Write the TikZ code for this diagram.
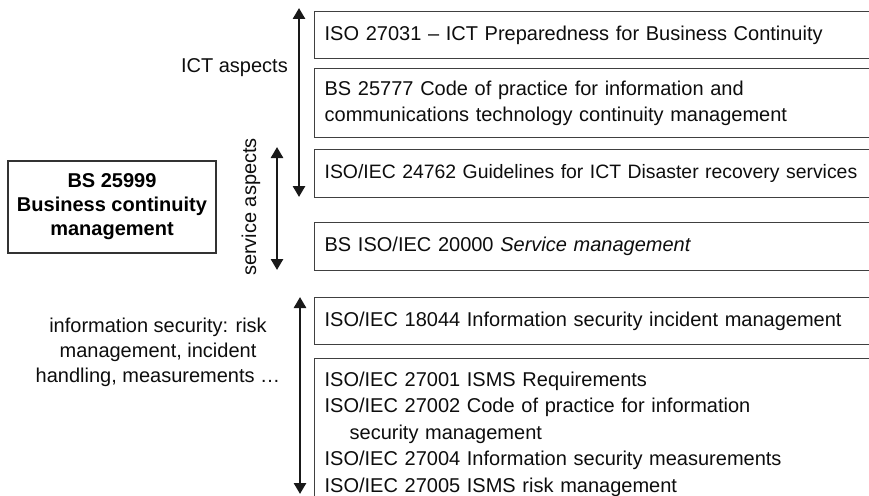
\documentclass[tikz,border=0pt]{standalone}
\usepackage{fontspec}
\setmainfont{Liberation Sans}
\usetikzlibrary{arrows.meta}

\tikzset{
  stdbox/.style={draw=black!75, line width=1.3pt, anchor=north west,
    minimum width=600pt, text width=580pt, inner xsep=9pt, align=left,
    text=black!95, font=\fontsize{20}{26.5}\selectfont},
  mainbox/.style={draw=black!80, line width=1.3pt, minimum width=208pt,
    minimum height=92pt, align=center, text=black,
    font=\fontsize{20}{24}\selectfont\bfseries},
  lbl/.style={text=black!95, font=\fontsize{20}{25}\selectfont, inner sep=0pt},
  span/.style={line width=2.6pt, black!90,
    {Triangle[width=12pt,length=11pt]}-{Triangle[width=12pt,length=11pt]}}
}

\begin{document}
\begin{tikzpicture}[x=1pt, y=-1pt]
  \useasboundingbox (0,0) rectangle (869,495);
  \clip (0,0) rectangle (869,495);

  % standards, stacked on the right
  \node[stdbox, minimum height=47pt] (iso27031) at (314,11)
    {ISO 27031 -- ICT Preparedness for Business Continuity};
  \node[stdbox, minimum height=69pt] (bs25777) at (314,68)
    {BS 25777 Code of practice for information and\\communications technology continuity management};
  \node[stdbox, minimum height=48pt, font=\fontsize{19.4}{26.5}\selectfont] (iso24762) at (314,149)
    {ISO/IEC 24762 Guidelines for ICT Disaster recovery services};
  \node[stdbox, minimum height=48pt] (iso20000) at (314,222)
    {BS ISO/IEC 20000 \textit{Service management}};
  \node[stdbox, minimum height=47pt] (iso18044) at (314,297)
    {ISO/IEC 18044 Information security incident management};
  \node[stdbox, inner ysep=13pt] (iso27000) at (314,358)
    {ISO/IEC 27001 ISMS Requirements\\
     ISO/IEC 27002 Code of practice for information\\
     \hspace*{25pt}security management\\
     ISO/IEC 27004 Information security measurements\\
     ISO/IEC 27005 ISMS risk management};

  % the overall standard
  \node[mainbox] (bs25999) at (112,207)
    {BS 25999\\Business continuity\\management};

  % aspect ranges
  \coordinate (ictTop) at (299,8);
  \coordinate (ictBot) at (299,197);
  \coordinate (svcTop) at (277,147);
  \coordinate (svcBot) at (277,270);
  \coordinate (secTop) at (300,297);
  \coordinate (secBot) at (300,494);
  \draw[span] (ictTop) -- (ictBot);
  \draw[span] (svcTop) -- (svcBot);
  \draw[span] (secTop) -- (secBot);

  \node[lbl, anchor=base east] (ictLbl) at (288,72) {ICT aspects};
  \node[lbl, rotate=90, anchor=base] (svcLbl) at (256,207) {service aspects};
  \node[lbl, align=center] (secLbl) at (158,352)
    {information security: risk\\management, incident\\handling, measurements \dots};
\end{tikzpicture}
\end{document}
